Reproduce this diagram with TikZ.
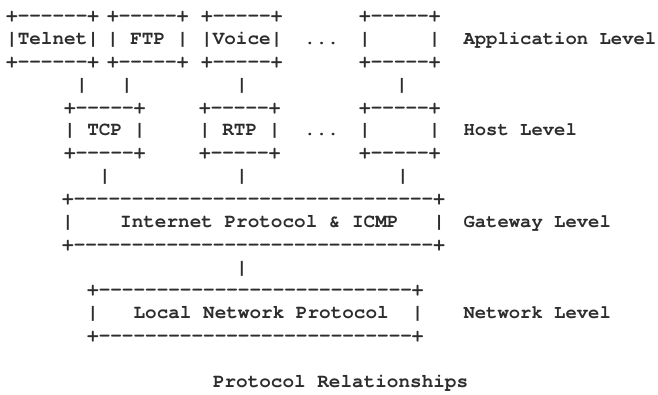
\documentclass[tikz,border=0pt]{standalone}
\usepackage{fontspec}
% Courier-style typewriter face for the character-drawn boxes
\newfontfamily\asc{texgyrecursor}[Extension=.otf, UprightFont=*-regular, BoldFont=*-bold, Ligatures=TeXOff]
\definecolor{ink}{RGB}{45,45,45}
\tikzset{
  ascii/.style={font=\asc\bfseries\fontsize{19.33}{22.85}\selectfont, inner sep=0pt, outer sep=0pt, text=ink},
  boxtext/.style={ascii, anchor=base west},
  levellabel/.style={boxtext, font=\asc\bfseries\fontsize{18.9}{22.85}\selectfont},
  pipe/.style={ascii, anchor=base},
}
\newcommand{\threerows}[3]{\begin{tabular}[t]{@{}l@{}}#1\\#2\\#3\end{tabular}}
\begin{document}
\begin{tikzpicture}[x=1pt, y=-1pt]
  \useasboundingbox[fill=white] (0,0) rectangle (658,394);

  % application level
  \node[boxtext] (telnet)  at (6.2,21.7)   {\threerows{+------+}{|Telnet|}{+------+}};
  \node[boxtext] (ftp)     at (107.2,21.7) {\threerows{+-----+}{|~FTP~|}{+-----+}};
  \node[boxtext] (voice)   at (201.2,21.7) {\threerows{+-----+}{|Voice|}{+-----+}};
  \node[boxtext] (appdots) at (304.2,44.55) {...};
  \node[boxtext] (appmore) at (359.2,21.7) {\threerows{+-----+}{|~~~~~|}{+-----+}};
  \node[levellabel] (applevel) at (463.5,44.55) {Application Level};

  % links to the host level
  \node[pipe] (l1) at (82,90.25)  {|};
  \node[pipe] (l2) at (127,90.25) {|};
  \node[pipe] (l3) at (242,90.25) {|};
  \node[pipe] (l4) at (402,90.25) {|};

  % host level
  \node[boxtext] (tcp)      at (64.2,113.1)  {\threerows{+-----+}{|~TCP~|}{+-----+}};
  \node[boxtext] (rtp)      at (199.2,113.1) {\threerows{+-----+}{|~RTP~|}{+-----+}};
  \node[boxtext] (hostdots) at (304.2,135.95) {...};
  \node[boxtext] (hostmore) at (359.2,113.1) {\threerows{+-----+}{|~~~~~|}{+-----+}};
  \node[levellabel] (hostlevel) at (463.5,135.95) {Host Level};

  % links to the gateway level
  \node[pipe] (l5) at (105,181.65) {|};
  \node[pipe] (l6) at (242,181.65) {|};
  \node[pipe] (l7) at (403,181.65) {|};

  % gateway level
  \node[boxtext] (ip) at (62.2,204.5)
    {\threerows{+-------------------------------+}{|~~~~Internet Protocol \& ICMP~~~|}{+-------------------------------+}};
  \node[levellabel] (gwlevel) at (463.5,227.35) {Gateway Level};

  % link to the network level
  \node[pipe] (l8) at (242,273.05) {|};

  % network level
  \node[boxtext] (lnp) at (87.2,295.9)
    {\threerows{+---------------------------+}{|~~~Local Network Protocol~~|}{+---------------------------+}};
  \node[levellabel] (netlevel) at (463.5,318.75) {Network Level};

  % caption
  \node[boxtext] (caption) at (213,387.3) {Protocol Relationships};
\end{tikzpicture}
\end{document}
